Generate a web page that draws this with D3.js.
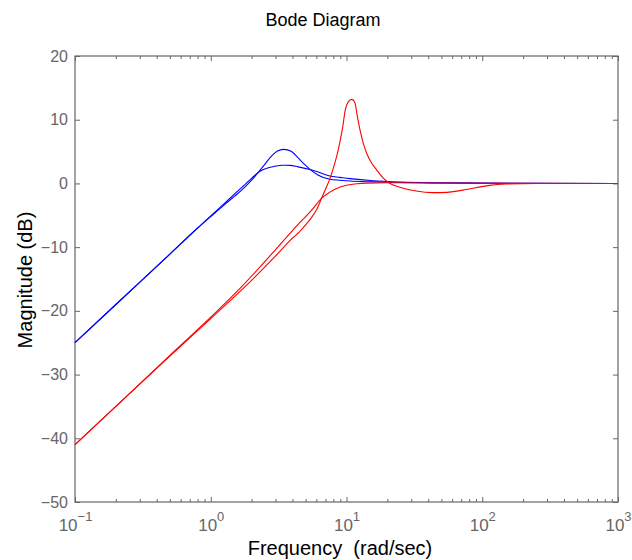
<!DOCTYPE html>
<html>
<head>
<meta charset="utf-8">
<script src="https://cdn.jsdelivr.net/npm/d3@7"></script>
<style>
  body { margin: 0; background: #fff; }
  svg { font-family: "Liberation Sans", Arial, sans-serif; }
</style>
</head>
<body>
<svg id="bode" width="632" height="560"></svg>
<script>
// values: frequency (rad/sec) and magnitude (dB)
var blueFreqA = [0.1, 0.2, 0.5, 0.8, 1.0, 1.25, 1.5, 1.8, 2.0, 2.23, 2.5, 2.8, 3.1, 3.43, 3.94, 4.4, 4.9, 5.38, 6.2, 7.55, 8.96, 10.6, 15.7, 25, 50, 100, 1000]
var blueMagA  = [-25, -19, -11.1, -7.0, -5.2, -3.4, -2.0, -0.5, 0.5, 1.7, 3.0, 4.3, 5.1, 5.35, 5.0, 4.0, 3.0, 2.2, 1.3, 0.65, 0.5, 0.38, 0.25, 0.15, 0.07, 0.03, 0]

var blueFreqB = [0.1, 0.2, 0.5, 0.8, 1.0, 1.25, 1.5, 1.8, 2.0, 2.23, 2.5, 2.97, 3.4, 3.84, 4.4, 5.38, 6.2, 7.55, 8.96, 10.6, 15.7, 25, 50, 100, 1000]
var blueMagB  = [-25, -19, -11.1, -7.0, -5.1, -3.2, -1.65, -0.1, 0.8, 1.7, 2.25, 2.7, 2.85, 2.84, 2.6, 2.2, 1.8, 1.16, 0.95, 0.75, 0.42, 0.22, 0.1, 0.04, 0]

var redFreqC = [0.1, 0.2, 0.5, 1.0, 1.69, 2.97, 4.0, 4.5, 5.54, 6.56, 7.5, 8.45, 10, 11.9, 14, 20, 50, 1000]
var redMagC  = [-41, -35, -27, -21, -16.2, -10.5, -7.4, -6.2, -4.2, -2.3, -1.4, -0.8, -0.3, -0.05, 0.05, 0.1, 0.05, 0]

var redFreqD = [0.1, 0.2, 0.5, 1.0, 1.79, 2.97, 4.0, 4.5, 5.0, 5.5, 6.03, 6.56, 7.0, 7.5, 8.0, 8.5, 9.0, 9.4, 9.75, 10.3, 10.97, 11.55, 12.0, 12.57, 13.3, 14.1, 15.3, 16.7, 18.5, 20.9, 24.7, 32.6, 43, 55, 72, 113, 150, 250, 1000]
var redMagD  = [-41, -35, -27.1, -21.2, -16.2, -11.5, -8.6, -7.6, -6.5, -5.4, -4.1, -2.3, -0.9, 0.6, 2.4, 4.4, 6.8, 9.0, 11.3, 12.8, 13.2, 12.6, 10.6, 8.4, 6.3, 4.7, 3.2, 2.1, 0.9, 0.0, -0.6, -1.2, -1.45, -1.4, -1.05, -0.3, -0.1, 0, 0]

var xMajor = [0.1, 1, 10, 100, 1000]
var xExponents = ["\u22121", "0", "1", "2", "3"]
var yTicks = [-50, -40, -30, -20, -10, 0, 10, 20]

var dimensions = {
    width: 632,
    height: 560,
    margin: { top: 56, bottom: 58, right: 14, left: 75 }
}

var svg = d3.select("#bode")
var plotLeft = dimensions.margin.left
var plotRight = dimensions.width - dimensions.margin.right
var plotTop = dimensions.margin.top
var plotBottom = dimensions.height - dimensions.margin.bottom

var xScale = d3.scaleLog()
    .domain([0.1, 1000])
    .range([plotLeft, plotRight])

var yScale = d3.scaleLinear()
    .domain([-50, 20])
    .range([plotBottom, plotTop])

var axisColor = "#666"

// minor ticks 2..9 in each decade
var xMinor = []
for (var dec = 0; dec < 4; dec++) {
    for (var m = 2; m <= 9; m++) {
        xMinor.push(m * Math.pow(10, dec - 1))
    }
}

function styleAxis(g) {
    g.select(".domain").remove()
    g.selectAll("line").attr("stroke", axisColor)
    g.selectAll("text").attr("fill", axisColor)
}

// minor ticks bottom / top
svg.append("g")
    .attr("transform", "translate(0," + plotBottom + ")")
    .call(d3.axisBottom(xScale).tickValues(xMinor).tickSize(-3).tickFormat(""))
    .call(styleAxis)
svg.append("g")
    .attr("transform", "translate(0," + plotTop + ")")
    .call(d3.axisTop(xScale).tickValues(xMinor).tickSize(-3).tickFormat(""))
    .call(styleAxis)

// major ticks bottom with 10^n labels
var xAxis = svg.append("g")
    .attr("transform", "translate(0," + plotBottom + ")")
    .call(d3.axisBottom(xScale).tickValues(xMajor).tickSize(-5).tickPadding(17).tickFormat(""))
    .call(styleAxis)

xAxis.selectAll(".tick text")
    .style("font-size", "17px")
    .attr("text-anchor", "middle")
    .each(function(d, i) {
        var t = d3.select(this)
        t.append("tspan").text("10")
        t.append("tspan")
            .attr("dy", "-0.75em")
            .style("font-size", "13px")
            .text(xExponents[i])
    })

svg.append("g")
    .attr("transform", "translate(0," + plotTop + ")")
    .call(d3.axisTop(xScale).tickValues(xMajor).tickSize(-5).tickFormat(""))
    .call(styleAxis)

// y axis left / right
svg.append("g")
    .attr("transform", "translate(" + plotLeft + ",0)")
    .call(d3.axisLeft(yScale).tickValues(yTicks).tickSize(-5).tickPadding(7)
        .tickFormat(function(d){ return d < 0 ? "\u2212" + Math.abs(d) : d }))
    .call(styleAxis)
    .selectAll("text")
    .style("font-size", "16px")

svg.append("g")
    .attr("transform", "translate(" + plotRight + ",0)")
    .call(d3.axisRight(yScale).tickValues(yTicks).tickSize(-5).tickFormat(""))
    .call(styleAxis)

// plot box
svg.append("rect")
    .attr("x", plotLeft)
    .attr("y", plotTop)
    .attr("width", plotRight - plotLeft)
    .attr("height", plotBottom - plotTop)
    .attr("fill", "none")
    .attr("stroke", axisColor)
    .attr("stroke-width", 1.2)

// curves
var line = d3.line()
    .x(function(d){ return xScale(d[0]) })
    .y(function(d){ return yScale(d[1]) })
    .curve(d3.curveMonotoneX)

var series = [
    { f: blueFreqA, m: blueMagA, color: "#0000ff" },
    { f: blueFreqB, m: blueMagB, color: "#0000ff" },
    { f: redFreqC, m: redMagC, color: "#ff0000" },
    { f: redFreqD, m: redMagD, color: "#ff0000" }
]

var plot = svg.append("g")
series.forEach(function(s){
    plot.append("path")
        .datum(d3.zip(s.f, s.m))
        .attr("d", line)
        .attr("fill", "none")
        .attr("stroke", s.color)
        .attr("stroke-width", 1.1)
})

// title and axis labels
svg.append("text")
    .attr("x", 323)
    .attr("y", 26)
    .attr("text-anchor", "middle")
    .style("font-size", "18px")
    .attr("fill", "#000")
    .text("Bode Diagram")

svg.append("text")
    .attr("x", 340)
    .attr("y", 555)
    .attr("text-anchor", "middle")
    .style("font-size", "20px")
    .attr("fill", "#000")
    .style("white-space", "pre")
    .text("Frequency  (rad/sec)")

svg.append("text")
    .attr("transform", "rotate(-90)")
    .attr("x", -280)
    .attr("y", 32)
    .attr("text-anchor", "middle")
    .style("font-size", "20px")
    .attr("fill", "#000")
    .text("Magnitude (dB)")
</script>
</body>
</html>
